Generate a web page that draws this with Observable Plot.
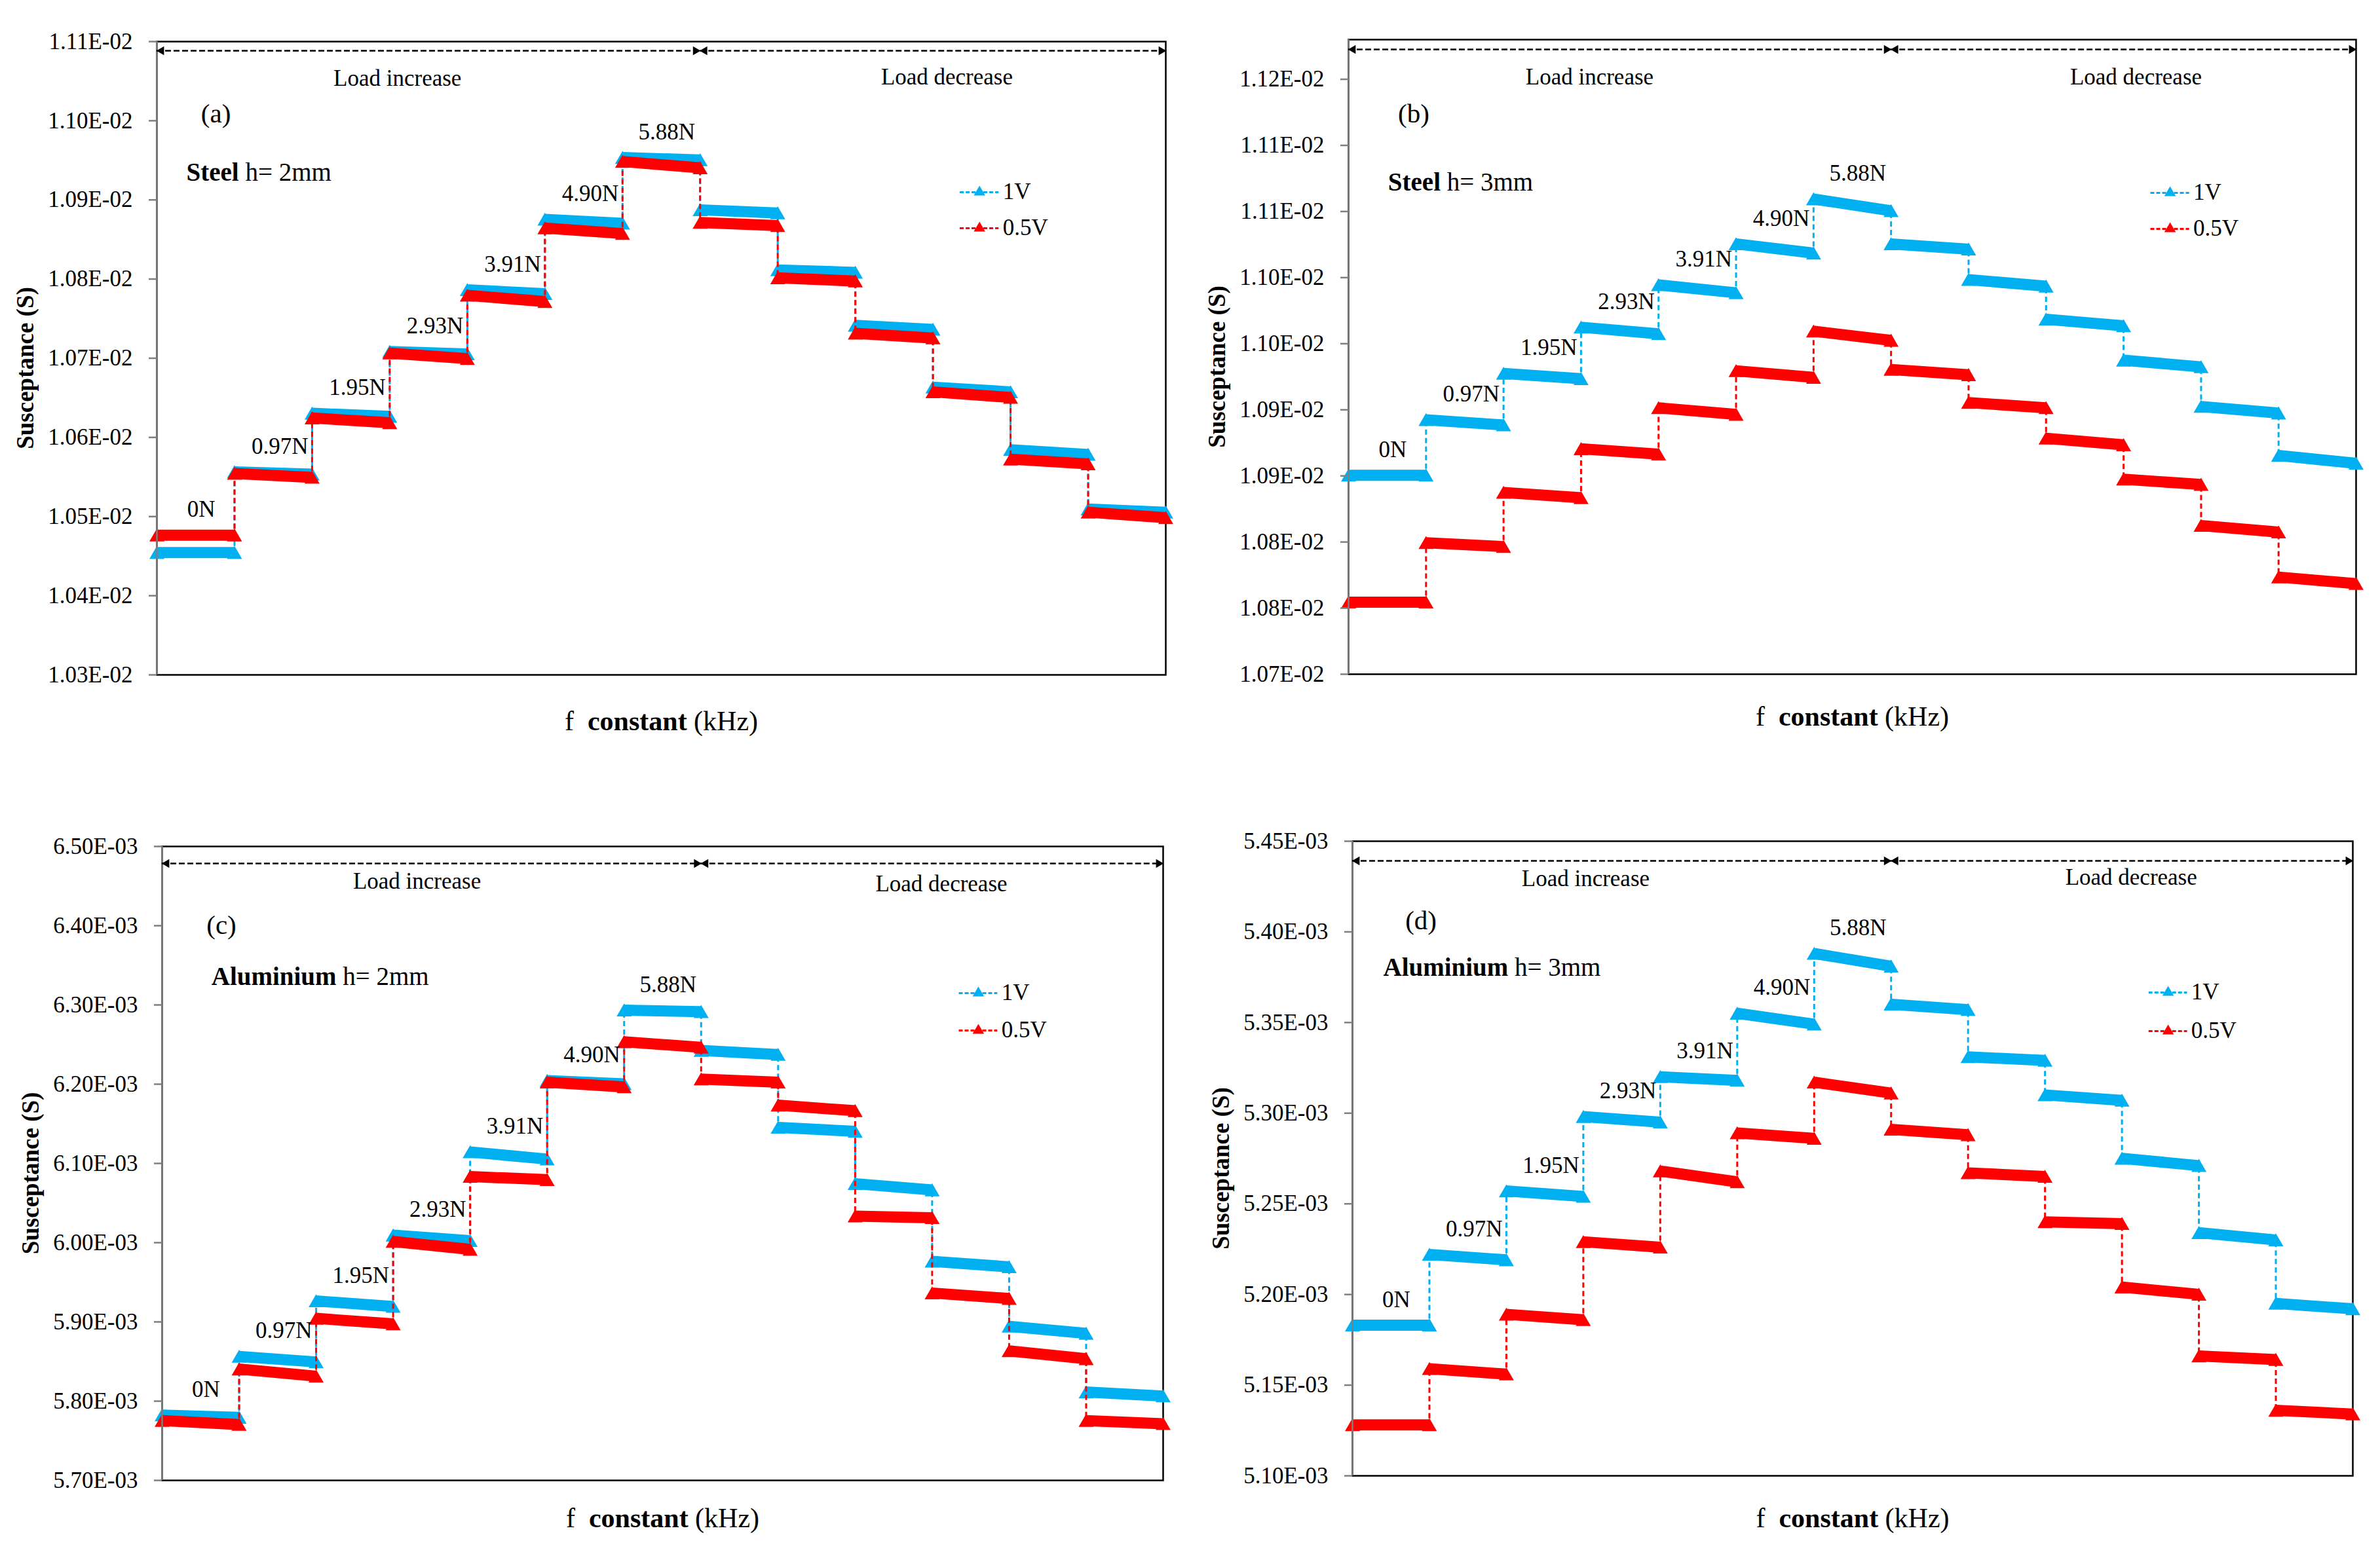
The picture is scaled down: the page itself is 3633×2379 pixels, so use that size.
<!DOCTYPE html>
<html>
<head>
<meta charset="utf-8">
<script src="https://cdn.jsdelivr.net/npm/d3@7"></script>
<script src="https://cdn.jsdelivr.net/npm/@observablehq/plot@0.6"></script>
<style>
  html, body { margin: 0; padding: 0; background: #fff; }
  body { width: 3633px; height: 2379px; position: relative; overflow: hidden; font-family: "Liberation Serif", serif; }
  .panel { position: absolute; }
</style>
</head>
<body>
<div id="pa" class="panel" style="left:0px;top:0px"></div>
<div id="pb" class="panel" style="left:1816px;top:0px"></div>
<div id="pc" class="panel" style="left:0px;top:1190px"></div>
<div id="pd" class="panel" style="left:1816px;top:1190px"></div>
<script>
// ---------------- DATA ----------------
// Load sequence (13 plateaus): increase then decrease
const loadSteps = ["0N","0.97N","1.95N","2.93N","3.91N","4.90N","5.88N","4.90N","3.91N","2.93N","1.95N","0.97N","0N"];
const forceLabels = ["0N","0.97N","1.95N","2.93N","3.91N","4.90N","5.88N"];
const seriesNames = ["1V","0.5V"];

// (a) Steel h = 2 mm — plateau start / end values (S)
const a1V_start  = [0.010452,0.010554,0.010628,0.010706,0.010784,0.010873,0.010951,0.010885,0.010809,0.010739,0.010661,0.010582,0.010507];
const a1V_end    = [0.010452,0.010551,0.010624,0.010703,0.010779,0.010868,0.010948,0.010881,0.010806,0.010734,0.010655,0.010576,0.010503];
const a05V_start = [0.010474,0.010552,0.010622,0.010704,0.010777,0.010862,0.010946,0.010869,0.010799,0.010729,0.010655,0.010570,0.010503];
const a05V_end   = [0.010474,0.010547,0.010616,0.010697,0.010769,0.010855,0.010938,0.010865,0.010795,0.010723,0.010648,0.010564,0.010496];
const aTicks  = [0.0103,0.0104,0.0105,0.0106,0.0107,0.0108,0.0109,0.0110,0.0111];
const aLabels = ["1.03E-02","1.04E-02","1.05E-02","1.06E-02","1.07E-02","1.08E-02","1.09E-02","1.10E-02","1.11E-02"];

// (b) Steel h = 3 mm
const b1V_start  = [0.010849,0.010891,0.010926,0.010961,0.010993,0.011024,0.011058,0.011024,0.010997,0.010967,0.010936,0.010901,0.010864];
const b1V_end    = [0.010849,0.010887,0.010922,0.010956,0.010987,0.011017,0.011049,0.011020,0.010992,0.010962,0.010931,0.010896,0.010858];
const b05V_start = [0.010753,0.010798,0.010836,0.010869,0.010900,0.010928,0.010958,0.010929,0.010904,0.010877,0.010846,0.010811,0.010772];
const b05V_end   = [0.010753,0.010795,0.010832,0.010865,0.010895,0.010923,0.010951,0.010925,0.010900,0.010872,0.010842,0.010806,0.010767];
const bTicks  = [0.01070,0.01075,0.01080,0.01085,0.01090,0.01095,0.01100,0.01105,0.01110,0.01115];
const bLabels = ["1.07E-02","1.08E-02","1.08E-02","1.09E-02","1.09E-02","1.10E-02","1.10E-02","1.11E-02","1.11E-02","1.12E-02"];

// (c) Aluminium h = 2 mm
const c1V_start  = [0.005780,0.005854,0.005924,0.006007,0.006112,0.006202,0.006291,0.006240,0.006143,0.006072,0.005974,0.005892,0.005809];
const c1V_end    = [0.005777,0.005847,0.005917,0.006000,0.006103,0.006198,0.006289,0.006235,0.006138,0.006064,0.005967,0.005883,0.005804];
const c05V_start = [0.005773,0.005838,0.005902,0.005999,0.006081,0.006200,0.006251,0.006204,0.006171,0.006031,0.005934,0.005861,0.005773];
const c05V_end   = [0.005768,0.005829,0.005895,0.005989,0.006077,0.006194,0.006244,0.006200,0.006164,0.006029,0.005927,0.005851,0.005769];
const cTicks  = [0.0057,0.0058,0.0059,0.0060,0.0061,0.0062,0.0063,0.0064,0.0065];
const cLabels = ["5.70E-03","5.80E-03","5.90E-03","6.00E-03","6.10E-03","6.20E-03","6.30E-03","6.40E-03","6.50E-03"];

// (d) Aluminium h = 3 mm
const d1V_start  = [0.005182,0.005221,0.005256,0.005297,0.005319,0.005354,0.005387,0.005359,0.005330,0.005309,0.005274,0.005233,0.005194];
const d1V_end    = [0.005182,0.005218,0.005253,0.005294,0.005317,0.005348,0.005380,0.005356,0.005328,0.005306,0.005270,0.005229,0.005191];
const d05V_start = [0.005127,0.005158,0.005188,0.005228,0.005267,0.005288,0.005316,0.005290,0.005266,0.005239,0.005203,0.005165,0.005135];
const d05V_end   = [0.005127,0.005155,0.005185,0.005225,0.005261,0.005285,0.005310,0.005287,0.005264,0.005238,0.005199,0.005163,0.005133];
const dTicks  = [0.00510,0.00515,0.00520,0.00525,0.00530,0.00535,0.00540,0.00545];
const dLabels = ["5.10E-03","5.15E-03","5.20E-03","5.25E-03","5.30E-03","5.35E-03","5.40E-03","5.45E-03"];

// ---------------- STYLE / LAYOUT ----------------
const BLUE = "#00B0F0", RED = "#FF0000";
const FONT = "'Liberation Serif', 'DejaVu Serif', serif";

function richify(svg, plain, parts) {
  svg.querySelectorAll("text").forEach(t => {
    if (t.textContent === plain) {
      while (t.firstChild) t.removeChild(t.firstChild);
      t.style.whiteSpace = "pre";
      for (const [s, b] of parts) {
        const ts = document.createElementNS("http://www.w3.org/2000/svg", "tspan");
        ts.textContent = s;
        ts.setAttribute("font-weight", b ? "bold" : "normal");
        t.appendChild(ts);
      }
    }
  });
}

function panel(cfg) {
  const yTop = cfg.domain[1];
  const labelMap = new Map(cfg.ticks.map((t, i) => [t, cfg.labels[i]]));
  const series = [
    {name: seriesNames[0], color: BLUE, s: cfg.s1, e: cfg.e1},
    {name: seriesNames[1], color: RED,  s: cfg.s2, e: cfg.e2}
  ];
  const marks = [];
  marks.push(Plot.frame({stroke: "#000", strokeWidth: 2.5}));
  for (const ser of series) {
    const segs = ser.s.map((v, i) => ({x1: i, x2: i + 1, y1: v, y2: ser.e[i], step: loadSteps[i]}));
    const conns = ser.s.slice(1).map((v, k) => ({x: k + 1, y1: ser.e[k], y2: v}));
    const pts = segs.flatMap(d => [{x: d.x1, y: d.y1}, {x: d.x2, y: d.y2}]);
    marks.push(Plot.link(conns, {x1: "x", x2: "x", y1: "y1", y2: "y2", stroke: ser.color, strokeWidth: 3, strokeDasharray: "8,5"}));
    marks.push(Plot.link(segs, {x1: "x1", x2: "x2", y1: "y1", y2: "y2", stroke: ser.color, strokeWidth: 17, dy: -3, strokeLinecap: "butt"}));
    marks.push(Plot.dot(pts, {x: "x", y: "y", symbol: "triangle", r: 8.5, fill: ser.color, stroke: "none"}));
  }
  // left axis line (grey) and ticks
  marks.push(Plot.ruleX([0], {stroke: "#7f7f7f", strokeWidth: 2.5}));
  marks.push(Plot.axisY(cfg.ticks, {tickFormat: d => labelMap.get(d), tickSize: 12, tickPadding: 25,
    stroke: "#7f7f7f", strokeWidth: 2.5, fill: "#000", fontSize: 35, label: null}));

  // load arrows
  const arr = [{x1: 0, x2: 7, y: yTop}, {x1: 7, x2: 13, y: yTop}];
  marks.push(Plot.ruleY(arr, {x1: "x1", x2: "x2", y: "y", dy: cfg.arrowDy, stroke: "#000", strokeWidth: 2.5, strokeDasharray: "9,4"}));
  marks.push(Plot.dot([{x: 0, y: yTop}, {x: 7, y: yTop}], {x: "x", y: "y", dy: cfg.arrowDy, dx: 7, symbol: "triangle", r: 5, rotate: -90, fill: "#000", stroke: "none"}));
  marks.push(Plot.dot([{x: 7, y: yTop}, {x: 13, y: yTop}], {x: "x", y: "y", dy: cfg.arrowDy, dx: -7, symbol: "triangle", r: 5, rotate: 90, fill: "#000", stroke: "none"}));
  marks.push(Plot.text([{x: cfg.incX, y: yTop, t: "Load increase"}], {x: "x", y: "y", text: "t", dy: cfg.incDy, fontSize: 35, fill: "#000"}));
  marks.push(Plot.text([{x: cfg.decX, y: yTop, t: "Load decrease"}], {x: "x", y: "y", text: "t", dy: cfg.decDy, fontSize: 35, fill: "#000"}));

  // panel letter & material
  marks.push(Plot.text([{x: cfg.letterX, y: yTop, t: cfg.letter}], {x: "x", y: "y", text: "t", dy: cfg.letterDy, fontSize: 41, fill: "#000"}));
  marks.push(Plot.text([{x: cfg.matX, y: yTop, t: cfg.material}], {x: "x", y: "y", text: "t", dy: cfg.matDy, fontSize: 39, textAnchor: "start", fill: "#000"}));

  // legend
  series.forEach((ser, k) => {
    const dy = cfg.legDy[k];
    marks.push(Plot.ruleY([{y: yTop, x1: 10.35, x2: 10.85}], {y: "y", x1: "x1", x2: "x2", dy, stroke: ser.color, strokeWidth: 3, strokeDasharray: "6,3"}));
    marks.push(Plot.dot([{x: 10.6, y: yTop}], {x: "x", y: "y", dy, symbol: "triangle", r: 6.5, fill: ser.color, stroke: "none"}));
    marks.push(Plot.text([{x: 10.9, y: yTop, t: ser.name}], {x: "x", y: "y", text: "t", dy: dy - 1, fontSize: 35, textAnchor: "start", fill: "#000"}));
  });

  // force labels above the increasing plateaus
  const fl = forceLabels.map((t, i) => ({t, i, y: Math.max(cfg.s1[i], cfg.s2[i])}));
  const mid = fl.filter(d => d.i === 0 || d.i === 6).map(d => ({...d, x: d.i + 0.57}));
  const end = fl.filter(d => d.i > 0 && d.i < 6).map(d => ({...d, x: d.i + 1}));
  marks.push(Plot.text(mid, {x: "x", y: "y", text: "t", dy: -42, fontSize: 35, fill: "#000"}));
  marks.push(Plot.text(end, {x: "x", y: "y", text: "t", dy: -42, dx: -6, textAnchor: "end", fontSize: 35, fill: "#000"}));

  // axis titles
  marks.push(Plot.text([{x: 6.5, y: cfg.domain[0]}], {x: "x", y: "y", text: () => "f  constant (kHz)", dy: cfg.xLabDy, fontSize: 42, fill: "#000"}));
  marks.push(Plot.text([{x: 0, y: (cfg.domain[0] + cfg.domain[1]) / 2}], {x: "x", y: "y", text: () => "Susceptance (S)", dx: -200, dy: 15, rotate: -90, fontSize: 37, fontWeight: "bold", fill: "#000"}));

  const svg = Plot.plot({
    width: cfg.width, height: cfg.height,
    marginTop: cfg.m[0], marginRight: cfg.m[1], marginBottom: cfg.m[2], marginLeft: cfg.m[3],
    x: {domain: [0, 13], axis: null},
    y: {domain: cfg.domain, axis: null},
    style: {fontFamily: FONT, fontSize: "35px", color: "#000", background: "#fff", overflow: "visible"},
    marks
  });
  richify(svg, "f  constant (kHz)", [["f", false], ["  constant", true], [" (kHz)", false]]);
  richify(svg, cfg.material, cfg.materialParts);
  document.getElementById(cfg.id).appendChild(svg);
}

panel({id: "pa", width: 1816, height: 1190, m: [63, 37, 160, 239], domain: [0.0103, 0.0111],
  ticks: aTicks, labels: aLabels, s1: a1V_start, e1: a1V_end, s2: a05V_start, e2: a05V_end,
  arrowDy: 14, incX: 3.1, incDy: 56, decX: 10.18, decDy: 54,
  letter: "(a)", letterX: 0.76, letterDy: 110,
  material: "Steel h= 2mm", materialParts: [["Steel", true], [" h= 2mm", false]], matX: 0.38, matDy: 200,
  legDy: [230, 285], xLabDy: 71});

panel({id: "pb", width: 1817, height: 1190, m: [60, 37, 161, 242], domain: [0.0107, 0.01118],
  ticks: bTicks, labels: bLabels, s1: b1V_start, e1: b1V_end, s2: b05V_start, e2: b05V_end,
  arrowDy: 15, incX: 3.11, incDy: 57, decX: 10.16, decDy: 57,
  letter: "(b)", letterX: 0.84, letterDy: 113,
  material: "Steel h= 3mm", materialParts: [["Steel", true], [" h= 3mm", false]], matX: 0.51, matDy: 218,
  legDy: [234, 289], xLabDy: 65});

panel({id: "pc", width: 1816, height: 1189, m: [102, 41, 119, 247], domain: [0.0057, 0.0065],
  ticks: cTicks, labels: cLabels, s1: c1V_start, e1: c1V_end, s2: c05V_start, e2: c05V_end,
  arrowDy: 26, incX: 3.31, incDy: 53, decX: 10.12, decDy: 57,
  letter: "(c)", letterX: 0.77, letterDy: 120,
  material: "Aluminium h= 2mm", materialParts: [["Aluminium", true], [" h= 2mm", false]], matX: 0.64, matDy: 199,
  legDy: [224, 281], xLabDy: 58});

panel({id: "pd", width: 1817, height: 1189, m: [94, 42, 126, 248], domain: [0.0051, 0.00545],
  ticks: dTicks, labels: dLabels, s1: d1V_start, e1: d1V_end, s2: d05V_start, e2: d05V_end,
  arrowDy: 30, incX: 3.03, incDy: 57, decX: 10.12, decDy: 55,
  letter: "(d)", letterX: 0.89, letterDy: 121,
  material: "Aluminium h= 3mm", materialParts: [["Aluminium", true], [" h= 3mm", false]], matX: 0.40, matDy: 193,
  legDy: [231, 290], xLabDy: 65});
</script>
</body>
</html>
